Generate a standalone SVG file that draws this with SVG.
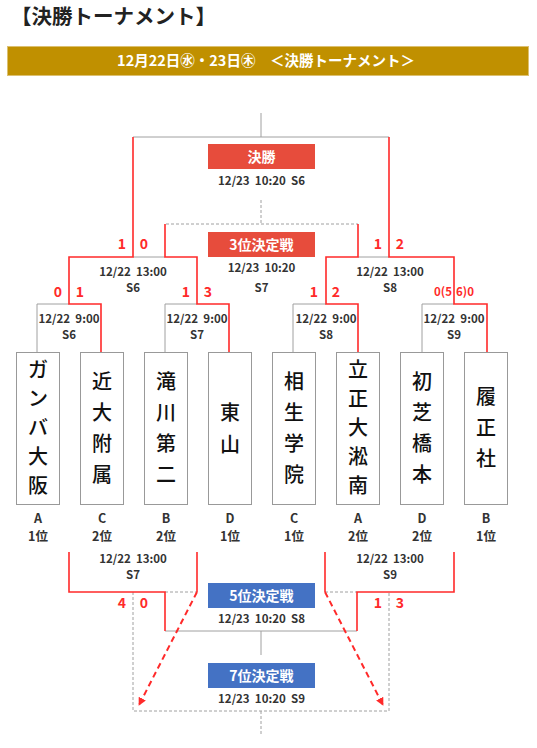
<svg xmlns="http://www.w3.org/2000/svg" width="537" height="748" viewBox="0 0 537 748">
<style>
text{font-family:"Noto Sans CJK JP","Liberation Sans",sans-serif}
.g{fill:none;stroke:#a0a0a0;stroke-width:1}
.gd{fill:none;stroke:#a0a0a0;stroke-width:1;stroke-dasharray:3 2}
.r{fill:none;stroke:#ff2a2a;stroke-width:1.6}
.ra{fill:none;stroke:#ff2a2a;stroke-width:2;stroke-dasharray:6 4}
.dt{font-size:11.5px;font-weight:bold;fill:#333;text-anchor:middle;white-space:pre}
.sc{font-size:14px;font-weight:bold;fill:#ff2a2a;text-anchor:middle}
.scs{font-size:11.5px;font-weight:bold;fill:#ff2a2a;text-anchor:middle}
.bx{font-size:14px;font-weight:bold;fill:#fff;text-anchor:middle}
.tb{fill:#fff;stroke:#999;stroke-width:1}
.tn{font-size:20px;font-weight:500;fill:#111;text-anchor:middle}
.lb{font-size:12.5px;font-weight:bold;fill:#333;text-anchor:middle}
</style>
<defs>
<marker id="ah" viewBox="0 0 10 10" refX="9" refY="5" markerWidth="4" markerHeight="4" orient="auto" markerUnits="strokeWidth">
<path d="M0,0 L10,5 L0,10 z" fill="#ff2a2a"/>
</marker>
</defs>
<rect width="537" height="748" fill="#fff"/>
<g id="title">
<text x="11" y="24" style="font-size:20.5px;font-weight:bold;fill:#222">【決勝トーナメント】</text>
</g>
<g id="banner">
<rect x="7.5" y="46.5" width="521" height="29" fill="#c09000" stroke="#dcc070" stroke-width="1"/>
<text x="266" y="66" style="font-size:14.5px;font-weight:bold;fill:#fff;text-anchor:middle">12月22日㊌・23日㊍　＜決勝トーナメント＞</text>
</g>
<g id="connectors">
<path class="g" d="M261,113 V137 M133,137 H389"/>
<path class="g" d="M37,352 V304 H69 M165,352 V304 H197 M293,352 V304 H326 M422,352 V304 H454"/>
<path class="g" d="M133,257 H165 M358,257 H389"/>
<path class="g" d="M165,631 H357 M261,631 V655"/>
<path class="gd" d="M261,200 V224 M166,224 H358"/>
<path class="gd" d="M165,592 H197 M325,592 H357 M133,592 V711 H389 V592 M261,711 V736"/>
<path class="r" d="M101,352 V304 H69 V257 H133 V137"/>
<path class="r" d="M229,352 V304 H197 V257 H165 V224"/>
<path class="r" d="M487,352 V304 H454 V257 H389 V137"/>
<path class="r" d="M358,352 V304 H326 V257 H358 V224"/>
<path class="r" d="M69,552 V592 H165 V631 M197,552 V592"/>
<path class="r" d="M454,552 V592 H357 V631 M325,552 V592"/>
<path class="ra" d="M197,592 L139,705" marker-end="url(#ah)"/>
<path class="ra" d="M325,592 L383,705" marker-end="url(#ah)"/>
</g>
<g id="scores">
<text class="sc" x="122" y="249">1</text><text class="sc" x="144" y="249">0</text>
<text class="sc" x="378" y="249">1</text><text class="sc" x="400" y="249">2</text>
<text class="sc" x="58" y="297">0</text><text class="sc" x="80" y="297">1</text>
<text class="sc" x="186" y="297">1</text><text class="sc" x="208" y="297">3</text>
<text class="sc" x="314" y="297">1</text><text class="sc" x="336" y="297">2</text>
<text class="scs" x="443" y="296">0(5</text><text class="scs" x="465" y="296">6)0</text>
<text class="sc" x="122" y="608">4</text><text class="sc" x="144" y="608">0</text>
<text class="sc" x="378" y="608">1</text><text class="sc" x="400" y="608">3</text>
</g>
<g id="final">
<rect x="208" y="144" width="107" height="25" fill="#e74c3c"/>
<text class="bx" x="261.5" y="161.5">決勝</text>
<text class="dt" x="261.5" y="185">12/23  10:20  S6</text>
</g>
<g id="third">
<rect x="208" y="232" width="107" height="25" fill="#e74c3c"/>
<text class="bx" x="261.5" y="249.5">3位決定戦</text>
<text class="dt" x="261.5" y="272">12/23  10:20</text>
<text class="dt" x="261.5" y="292">S7</text>
</g>
<g id="fifth">
<rect x="208" y="583" width="107" height="25" fill="#4472c4"/>
<text class="bx" x="261.5" y="600.5">5位決定戦</text>
<text class="dt" x="261.5" y="623">12/23  10:20  S8</text>
</g>
<g id="seventh">
<rect x="208" y="663" width="107" height="25" fill="#4472c4"/>
<text class="bx" x="261.5" y="680.5">7位決定戦</text>
<text class="dt" x="261.5" y="703">12/23  10:20  S9</text>
</g>
<g id="match-labels">
<text class="dt" x="133" y="276">12/22  13:00</text><text class="dt" x="133" y="292">S6</text>
<text class="dt" x="390" y="276">12/22  13:00</text><text class="dt" x="390" y="292">S8</text>
<text class="dt" x="69" y="323">12/22  9:00</text><text class="dt" x="69" y="339">S6</text>
<text class="dt" x="197" y="323">12/22  9:00</text><text class="dt" x="197" y="339">S7</text>
<text class="dt" x="326" y="323">12/22  9:00</text><text class="dt" x="326" y="339">S8</text>
<text class="dt" x="454" y="323">12/22  9:00</text><text class="dt" x="454" y="339">S9</text>
<text class="dt" x="133" y="563">12/22  13:00</text><text class="dt" x="133" y="579">S7</text>
<text class="dt" x="390" y="563">12/22  13:00</text><text class="dt" x="390" y="579">S9</text>
</g>
<g id="team-gamba">
<rect class="tb" x="16.5" y="352.5" width="43" height="152"/>
<text class="tn"><tspan x="38" y="377">ガ</tspan><tspan x="38" y="406">ン</tspan><tspan x="38" y="435">バ</tspan><tspan x="38" y="464">大</tspan><tspan x="38" y="493">阪</tspan></text>
<text class="lb" x="38" y="523">A</text><text class="lb" x="38" y="541">1位</text>
</g>
<g id="team-kindai">
<rect class="tb" x="80.5" y="352.5" width="43" height="152"/>
<text class="tn"><tspan x="102" y="389">近</tspan><tspan x="102" y="420">大</tspan><tspan x="102" y="451">附</tspan><tspan x="102" y="482">属</tspan></text>
<text class="lb" x="102" y="523">C</text><text class="lb" x="102" y="541">2位</text>
</g>
<g id="team-takigawa">
<rect class="tb" x="144.5" y="352.5" width="43" height="152"/>
<text class="tn"><tspan x="166" y="389">滝</tspan><tspan x="166" y="420">川</tspan><tspan x="166" y="451">第</tspan><tspan x="166" y="482">二</tspan></text>
<text class="lb" x="166" y="523">B</text><text class="lb" x="166" y="541">2位</text>
</g>
<g id="team-higashiyama">
<rect class="tb" x="208.5" y="352.5" width="43" height="152"/>
<text class="tn"><tspan x="230" y="420">東</tspan><tspan x="230" y="452">山</tspan></text>
<text class="lb" x="230" y="523">D</text><text class="lb" x="230" y="541">1位</text>
</g>
<g id="team-aioi">
<rect class="tb" x="272.5" y="352.5" width="43" height="152"/>
<text class="tn"><tspan x="294" y="389">相</tspan><tspan x="294" y="420">生</tspan><tspan x="294" y="451">学</tspan><tspan x="294" y="482">院</tspan></text>
<text class="lb" x="294" y="523">C</text><text class="lb" x="294" y="541">1位</text>
</g>
<g id="team-risshou">
<rect class="tb" x="336.5" y="352.5" width="43" height="152"/>
<text class="tn"><tspan x="358" y="377">立</tspan><tspan x="358" y="406">正</tspan><tspan x="358" y="435">大</tspan><tspan x="358" y="464">淞</tspan><tspan x="358" y="493">南</tspan></text>
<text class="lb" x="358" y="523">A</text><text class="lb" x="358" y="541">2位</text>
</g>
<g id="team-hatsushiba">
<rect class="tb" x="400.5" y="352.5" width="43" height="152"/>
<text class="tn"><tspan x="422" y="389">初</tspan><tspan x="422" y="420">芝</tspan><tspan x="422" y="451">橋</tspan><tspan x="422" y="482">本</tspan></text>
<text class="lb" x="422" y="523">D</text><text class="lb" x="422" y="541">2位</text>
</g>
<g id="team-riseisha">
<rect class="tb" x="464.5" y="352.5" width="43" height="152"/>
<text class="tn"><tspan x="486" y="404">履</tspan><tspan x="486" y="435">正</tspan><tspan x="486" y="466">社</tspan></text>
<text class="lb" x="486" y="523">B</text><text class="lb" x="486" y="541">1位</text>
</g>
</svg>
